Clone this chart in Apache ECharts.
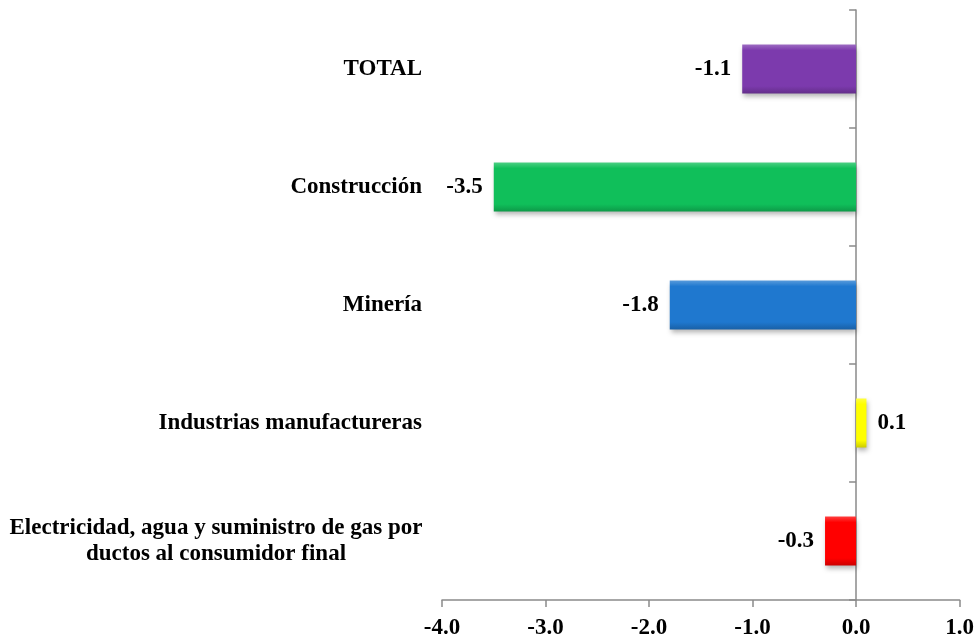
<!DOCTYPE html>
<html>
<head>
<meta charset="utf-8">
<style>
  html, body { margin: 0; padding: 0; background: #ffffff; }
  #chart { width: 977px; height: 641px; }
</style>
<script src="https://cdn.jsdelivr.net/npm/echarts@6/dist/echarts.min.js"></script>
</head>
<body>
<div id="chart"></div>
<script>
// Sectors, bottom to top as drawn on the category axis
const categories = [
  'Electricidad, agua y suministro de gas por\nductos al consumidor final',
  'Industrias manufactureras',
  'Minería',
  'Construcción',
  'TOTAL'
];
const values = [-0.3, 0.1, -1.8, -3.5, -1.1];
const barColors = ['#ff0000', '#ffff00', '#1f78cf', '#10bf5a', '#7c3aad'];
const xTicks = [-4, -3, -2, -1, 0, 1];

// Shade a hex colour towards white (t > 0) or black (t < 0)
function shade(hex, t) {
  const n = parseInt(hex.slice(1), 16);
  let r = (n >> 16) & 255, g = (n >> 8) & 255, b = n & 255;
  const target = t > 0 ? 255 : 0, k = Math.abs(t);
  r = Math.round(r + (target - r) * k);
  g = Math.round(g + (target - g) * k);
  b = Math.round(b + (target - b) * k);
  return 'rgb(' + r + ',' + g + ',' + b + ')';
}

const font = '"Liberation Serif", "Times New Roman", serif';
const fontSize = 23;

const chart = echarts.init(document.getElementById('chart'), null, { renderer: 'canvas' });

chart.setOption({
  animation: false,
  backgroundColor: '#ffffff',
  grid: { left: 442, right: 16, top: 10, bottom: 41, containLabel: false },
  xAxis: {
    type: 'value',
    min: xTicks[0],
    max: xTicks[xTicks.length - 1],
    interval: 1,
    splitLine: { show: false },
    axisLine: { show: true, onZero: false, lineStyle: { color: '#8a8a8a', width: 1.5 } },
    axisTick: { show: true, length: 7, lineStyle: { color: '#8a8a8a', width: 1.5 } },
    axisLabel: {
      margin: 17,
      color: '#000000',
      fontFamily: font,
      fontWeight: 'bold',
      fontSize: fontSize,
      formatter: v => v.toFixed(1)
    }
  },
  yAxis: [
    {
      // axis line drawn at zero with boundary ticks
      type: 'category',
      data: categories,
      axisLine: { show: true, onZero: true, lineStyle: { color: '#8a8a8a', width: 1.5 } },
      axisTick: { show: true, length: 7, lineStyle: { color: '#8a8a8a', width: 1.5 } },
      axisLabel: { show: false }
    },
    {
      // category names along the left edge of the plot
      type: 'category',
      data: categories,
      position: 'left',
      axisLine: { show: false, onZero: false },
      axisTick: { show: false },
      axisLabel: {
        margin: 20,
        color: '#000000',
        fontFamily: font,
        fontWeight: 'bold',
        fontSize: fontSize,
        lineHeight: 26,
        align: 'right',
        // multi-line names are centred line by line inside their block
        formatter: name => name.indexOf('\n') < 0
          ? name
          : name.split('\n').map(l => '{c|' + l + '}').join('\n'),
        rich: {
          c: {
            width: 412,
            align: 'center',
            color: '#000000',
            fontFamily: font,
            fontWeight: 'bold',
            fontSize: fontSize,
            lineHeight: 26
          }
        }
      }
    }
  ],
  series: [{
    type: 'bar',
    yAxisIndex: 0,
    barWidth: 49,
    data: values.map((v, i) => ({
      value: v,
      itemStyle: {
        color: {
          type: 'linear', x: 0, y: 0, x2: 0, y2: 1,
          colorStops: [
            { offset: 0, color: shade(barColors[i], 0.25) },
            { offset: 0.12, color: barColors[i] },
            { offset: 0.85, color: barColors[i] },
            { offset: 1, color: shade(barColors[i], -0.2) }
          ]
        },
        shadowColor: 'rgba(0,0,0,0.3)',
        shadowBlur: 5,
        shadowOffsetY: 3,
        shadowOffsetX: 1
      },
      label: {
        show: true,
        position: v < 0 ? 'left' : 'right',
        distance: 11,
        color: '#000000',
        fontFamily: font,
        fontWeight: 'bold',
        fontSize: fontSize,
        formatter: p => p.value.toFixed(1)
      }
    }))
  }]
});
</script>
</body>
</html>
